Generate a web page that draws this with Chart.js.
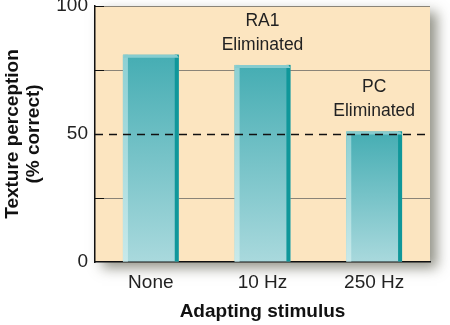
<!DOCTYPE html>
<html>
<head>
<meta charset="utf-8">
<script src="https://cdn.jsdelivr.net/npm/chart.js@4/dist/chart.umd.min.js"></script>
<style>
  html, body { margin: 0; padding: 0; background: #fff; }
  #grafico { display: block; }
</style>
</head>
<body>
<canvas id="grafico" width="450" height="325"></canvas>
<script>
// datos
const estimulos = ["None", "10 Hz", "250 Hz"];
const percepcion = [81, 77, 51];
const notas = [[], ["RA1", "Eliminated"], ["PC", "Eliminated"]];
const marcasY = [0, 50, 100];
const nivelAzar = 50;

const FUENTE = "'Liberation Sans', Arial, Helvetica, sans-serif";

// fondo crema con sombra
const fondoPanel = {
  id: "fondoPanel",
  beforeDraw(chart) {
    const { ctx, chartArea: a } = chart;
    ctx.save();
    ctx.fillStyle = "#fff";
    ctx.fillRect(0, 0, chart.width, chart.height);
    ctx.shadowColor = "rgba(60,60,40,0.55)";
    ctx.shadowBlur = 12;
    ctx.shadowOffsetX = 7;
    ctx.shadowOffsetY = 6;
    ctx.fillStyle = "#FCE5C0";
    ctx.fillRect(a.left, a.top, a.right - a.left, a.bottom - a.top);
    ctx.restore();
  }
};

// bordes de las barras y linea punteada del 50%
const detalles = {
  id: "detalles",
  afterDatasetsDraw(chart) {
    const { ctx, chartArea: a } = chart;
    const y = chart.scales.y;
    const meta = chart.getDatasetMeta(0);
    ctx.save();
    meta.data.forEach((bar, i) => {
      const izq = bar.x - bar.width / 2;
      const der = bar.x + bar.width / 2;
      const alto = bar.base - bar.y;
      const gLuz = ctx.createLinearGradient(0, bar.y, 0, bar.base);
      gLuz.addColorStop(0, "#8DD0D3");
      gLuz.addColorStop(1, "#C8E9EA");
      ctx.fillStyle = gLuz;
      ctx.fillRect(izq, bar.y, 5, alto);
      ctx.fillStyle = "#10979A";
      ctx.fillRect(der - 4, bar.y, 4, alto);
      ctx.fillStyle = "#86CCCF";
      ctx.beginPath();
      ctx.moveTo(izq, bar.y + 3);
      ctx.lineTo(izq + 2, bar.y);
      ctx.lineTo(der - 2, bar.y);
      ctx.lineTo(der, bar.y + 3);
      ctx.closePath();
      ctx.fill();

      // texto encima
      const lineas = notas[i];
      ctx.fillStyle = "#222";
      ctx.font = "17.5px " + FUENTE;
      ctx.textAlign = "center";
      ctx.textBaseline = "middle";
      lineas.forEach((t, k) => {
        ctx.fillText(t, bar.x, bar.y - 20 - (lineas.length - 1 - k) * 24);
      });
    });

    const y50 = Math.round(y.getPixelForValue(nivelAzar)) + 0.5;
    ctx.strokeStyle = "#111";
    ctx.lineWidth = 1.3;
    ctx.setLineDash([8, 6]);
    ctx.beginPath();
    ctx.moveTo(a.left, y50);
    ctx.lineTo(a.right, y50);
    ctx.stroke();
    ctx.setLineDash([]);

    // marcas cortas negras en el eje
    ctx.lineWidth = 1;
    [25, 75, 100].forEach(v => {
      const py = Math.round(y.getPixelForValue(v)) + 0.5;
      ctx.beginPath();
      ctx.moveTo(a.left, py);
      ctx.lineTo(a.left + 9, py);
      ctx.stroke();
    });
    ctx.restore();
  }
};

new Chart(document.getElementById("grafico"), {
  type: "bar",
  data: {
    labels: estimulos,
    datasets: [{
      data: percepcion,
      backgroundColor: (c) => {
        const chart = c.chart;
        if (!chart.chartArea || c.dataIndex === undefined) return "#46AEB4";
        const ys = chart.scales.y;
        const top = ys.getPixelForValue(percepcion[c.dataIndex]);
        const g = chart.ctx.createLinearGradient(0, top, 0, ys.getPixelForValue(0));
        g.addColorStop(0, "#45ADB3");
        g.addColorStop(1, "#A9D9DD");
        return g;
      },
      borderWidth: 0,
      barPercentage: 0.5,
      categoryPercentage: 1
    }]
  },
  options: {
    responsive: false,
    animation: false,
    devicePixelRatio: 1,
    layout: { padding: { top: 6, right: 20, left: 0, bottom: 0 } },
    plugins: {
      legend: { display: false },
      tooltip: { enabled: false }
    },
    scales: {
      x: {
        grid: { display: false, drawTicks: false },
        border: { color: "#111", width: 1.5 },
        ticks: { color: "#222", font: { family: FUENTE, size: 19 }, padding: 9 },
        title: {
          display: true,
          text: "Adapting stimulus",
          color: "#111",
          font: { family: FUENTE, size: 19, weight: "bold" },
          padding: { top: 0, bottom: 2 }
        },
        afterFit(s) { s.height = 63; s.paddingLeft = 0; s.paddingRight = 0; }
      },
      y: {
        min: 0,
        max: 100,
        grid: {
          drawTicks: false,
          color: (c) => (c.tick.value === 0 || c.tick.value === nivelAzar) ? "rgba(0,0,0,0)" : "#8a8478",
          lineWidth: 1
        },
        border: { color: "#111", width: 1.5 },
        ticks: {
          stepSize: 25,
          padding: 7,
          color: "#222",
          font: { family: FUENTE, size: 19 },
          callback: (v) => marcasY.includes(v) ? v : ""
        },
        title: {
          display: true,
          text: ["Texture perception", "(% correct)"],
          color: "#111",
          font: { family: FUENTE, size: 19, weight: "bold", lineHeight: 1.1 },
          padding: { top: 2, bottom: 0 }
        },
        afterFit(s) { s.width = 95; s.paddingTop = 0; s.paddingBottom = 0; }
      }
    }
  },
  plugins: [fondoPanel, detalles]
});
</script>
</body>
</html>
